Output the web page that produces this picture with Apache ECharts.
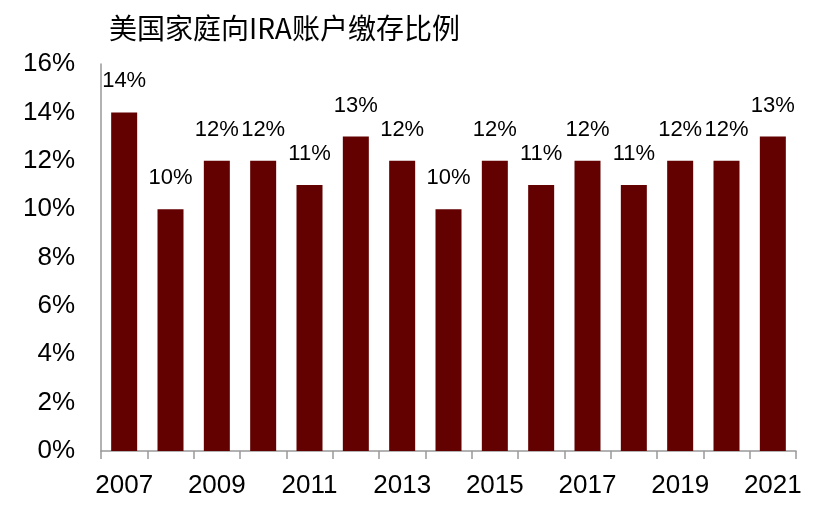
<!DOCTYPE html>
<html><head><meta charset="utf-8">
<script src="https://cdn.jsdelivr.net/npm/echarts@6/dist/echarts.min.js"></script>
<style>html,body{margin:0;padding:0;background:#fff}#c{width:838px;height:518px}</style>
</head><body><div id="c"></div>
<script>
const title = '美国家庭向IRA账户缴存比例';
const years = ['2007','2008','2009','2010','2011','2012','2013','2014','2015','2016','2017','2018','2019','2020','2021'];
const values = [14,10,12,12,11,13,12,10,12,11,12,11,12,12,13];
const yTicks = [0,2,4,6,8,10,12,14,16];

const chart = echarts.init(document.getElementById('c'));
const font = 'Liberation Sans, Arial, sans-serif';
chart.setOption({
  animation: false,
  title: {text: title, left: 104, top: 9, textStyle: {fontFamily: 'Noto Sans CJK SC, sans-serif', fontSize: 28, fontWeight: 'normal', color: '#000'}},
  grid: {left: 101, right: 42, top: 64, bottom: 67},
  xAxis: {
    type: 'category', data: years,
    axisLine: {lineStyle: {color: '#999', width: 1.5}},
    axisTick: {show: true, alignWithLabel: false, interval: 0, length: 8, lineStyle: {color: '#999', width: 1.5}},
    axisLabel: {interval: 1, color: '#000', fontSize: 26, fontFamily: font, margin: 22}
  },
  yAxis: {
    type: 'value', min: yTicks[0], max: yTicks[yTicks.length-1], interval: 2,
    axisLine: {show: true, lineStyle: {color: '#999', width: 1.5}},
    axisTick: {show: false},
    splitLine: {show: false},
    axisLabel: {color: '#000', fontSize: 26, fontFamily: font, margin: 26, formatter: v => v + '%'}
  },
  series: [{
    type: 'bar', data: values, barWidth: 26,
    itemStyle: {color: '#630000'},
    label: {show: true, position: 'top', distance: 20, color: '#000', fontSize: 22, fontFamily: font, formatter: p => p.value + '%'}
  }]
});
</script></body></html>
